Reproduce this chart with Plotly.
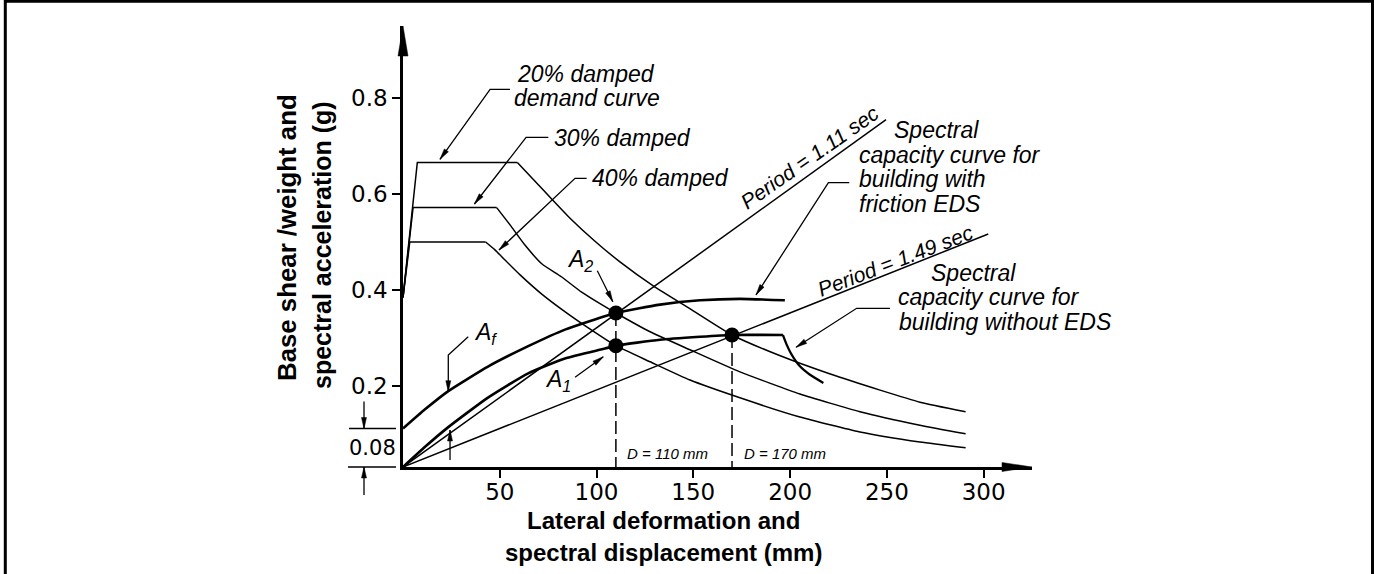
import math
import plotly.graph_objects as go

# ---------------- values ----------------
X_RANGE = [0, 325]          # spectral displacement, mm
Y_RANGE = [0.032, 0.95]     # spectral acceleration, g
BASE = 0.032                # origin of the capacity curves on the vertical scale
AF_OFFSET = 0.08            # friction offset of the EDS capacity curve

x_ticks = [50, 100, 150, 200, 250, 300]
y_ticks = [0.2, 0.4, 0.6, 0.8]
y_tick_text = ["0.2", "0.4", "0.6", "0.8"]

# demand spectra: rising branch + plateau, then the descending branch
d20_rise_x = [0, 7.4, 59.1]
d20_rise_y = [0.385, 0.666, 0.666]
d20_fall_x = [59.1, 68.2, 76.8, 86.3, 99.2, 112.1, 129.3, 148.4, 170, 194.6, 220.4, 246.5, 267.1, 290.7]
d20_fall_y = [0.666, 0.627, 0.590, 0.550, 0.502, 0.459, 0.409, 0.361, 0.3068, 0.264, 0.226, 0.192, 0.167, 0.147]

d30_rise_x = [0, 5.2, 48.4]
d30_rise_y = [0.385, 0.572, 0.572]
d30_fall_x = [48.4, 55.3, 63.0, 71.7, 81.8, 92.3, 101.8, 110, 127.4, 148.3, 174.1, 205.1, 236.1, 267.1, 290.7]
d30_fall_y = [0.572, 0.536, 0.494, 0.455, 0.428, 0.396, 0.372, 0.3526, 0.314, 0.276, 0.230, 0.184, 0.147, 0.119, 0.101]

d40_rise_x = [0, 3.5, 42.7]
d40_rise_y = [0.385, 0.5004, 0.5004]
d40_fall_x = [42.7, 47.5, 52.7, 60.5, 71.7, 83.8, 96.7, 110, 127.7, 148.3, 174.1, 205.1, 236.1, 267.1, 290.7]
d40_fall_y = [0.5004, 0.484, 0.463, 0.432, 0.392, 0.355, 0.319, 0.2845, 0.251, 0.213, 0.176, 0.136, 0.105, 0.084, 0.072]

# capacity curves
cap_fric_x = [0, 11.4, 23.4, 43.9, 64.7, 83.7, 110, 132.8, 153.5, 174.1, 197.3]
cap_fric_y = [BASE + AF_OFFSET, 0.152, 0.190, 0.241, 0.2835, 0.318, 0.3526, 0.370, 0.379, 0.382, 0.379]

cap_bare_x = [0, 11.4, 23.4, 43.9, 64.7, 83.7, 104.4, 110, 132.8, 153.5, 170, 196.3]
cap_bare_y = [BASE, 0.074, 0.115, 0.1765, 0.227, 0.258, 0.2785, 0.2845, 0.297, 0.303, 0.3068, 0.3068]
cap_drop_x = [196.3, 198.2, 200.8, 205.1, 210.3, 217.2]
cap_drop_y = [0.3068, 0.287, 0.266, 0.2416, 0.224, 0.207]

# constant-period lines
period_111_x = [0, 249.6]
period_111_y = [BASE, 0.755]
period_149_x = [0, 302.4]
period_149_y = [BASE, 0.517]

# performance points
perf_x = [110, 110, 170]
perf_y = [0.3526, 0.2845, 0.3068]

# ---------------- geometry helpers ----------------
FW, FH = 1374, 574
MARGIN = dict(l=403, r=342, t=26, b=107, pad=0)
PW = FW - MARGIN["l"] - MARGIN["r"]
PH = FH - MARGIN["t"] - MARGIN["b"]
SX = PW / (X_RANGE[1] - X_RANGE[0])
SY = PH / (Y_RANGE[1] - Y_RANGE[0])


def to_px(x, y):
    return MARGIN["l"] + (x - X_RANGE[0]) * SX, MARGIN["t"] + (Y_RANGE[1] - y) * SY


def px_to_paper(px, py):
    return (px - MARGIN["l"]) / PW, (FH - MARGIN["b"] - py) / PH


def data_to_paper(x, y):
    return px_to_paper(*to_px(x, y))


shapes = []
annotations = []


def poly(points_px, width=1.4, dash=None):
    pts = [px_to_paper(*p) for p in points_px]
    path = "M" + " L".join(f"{a:.5f},{b:.5f}" for a, b in pts)
    ln = dict(color="black", width=width)
    if dash:
        ln["dash"] = dash
    shapes.append(dict(type="path", xref="paper", yref="paper", path=path, line=ln))


def head(tip_px, from_px, length=11, width=5):
    tx, ty = tip_px
    fx, fy = from_px
    n = math.hypot(tx - fx, ty - fy)
    ux, uy = (tx - fx) / n, (ty - fy) / n
    bx, by = tx - ux * length, ty - uy * length
    nx, ny = -uy, ux
    pts = [(tx, ty), (bx + nx * width / 2, by + ny * width / 2), (bx - nx * width / 2, by - ny * width / 2)]
    pts = [px_to_paper(*p) for p in pts]
    path = "M" + " L".join(f"{a:.5f},{b:.5f}" for a, b in pts) + " Z"
    shapes.append(dict(type="path", xref="paper", yref="paper", path=path,
                       fillcolor="black", line=dict(color="black", width=0.5)))


def leader(points_data, length=11, width=5):
    pts = [to_px(*p) for p in points_data]
    poly(pts, width=1.3)
    head(pts[-1], pts[-2], length, width)


def text(s, x, y, size=23, xanchor="center", angle=0, italic=True, bold=False, ref="data"):
    font = dict(family="Liberation Sans, Arial, sans-serif", size=size, color="black")
    if italic:
        font["style"] = "italic"
    if bold:
        font["weight"] = "bold"
    if ref == "data":
        xr, yr = "x", "y"
    else:
        xr, yr = "paper", "paper"
        x, y = px_to_paper(x, y)
    annotations.append(dict(text=s, x=x, y=y, xref=xr, yref=yr, showarrow=False,
                            xanchor=xanchor, yanchor="middle", textangle=angle,
                            font=font))


# ---------------- traces ----------------
fig = go.Figure()


def line(xs, ys, width, shape="linear"):
    fig.add_trace(go.Scatter(x=xs, y=ys, mode="lines", hoverinfo="skip",
                             line=dict(color="black", width=width, shape=shape, smoothing=0.5)))


for rx, ry, fx, fy in [(d20_rise_x, d20_rise_y, d20_fall_x, d20_fall_y),
                       (d30_rise_x, d30_rise_y, d30_fall_x, d30_fall_y),
                       (d40_rise_x, d40_rise_y, d40_fall_x, d40_fall_y)]:
    line(rx, ry, 1.5)
    line(fx, fy, 1.5, "spline")

line(period_111_x, period_111_y, 1.5)
line(period_149_x, period_149_y, 1.5)
line(cap_fric_x, cap_fric_y, 2.6, "spline")
line(cap_bare_x, cap_bare_y, 2.6, "spline")
line(cap_drop_x, cap_drop_y, 2.2, "spline")

# dashed drops from the performance points to the displacement axis
for xv, yv in [(perf_x[0], perf_y[0]), (perf_x[2], perf_y[2])]:
    fig.add_trace(go.Scatter(x=[xv, xv], y=[yv, Y_RANGE[0]], mode="lines", hoverinfo="skip",
                             line=dict(color="black", width=1.5, dash="13px,5px")))

fig.add_trace(go.Scatter(x=perf_x, y=perf_y, mode="markers", hoverinfo="skip",
                         marker=dict(color="black", size=15)))

# ---------------- axis arrowheads ----------------
head(to_px(X_RANGE[0], Y_RANGE[1]), to_px(X_RANGE[0], Y_RANGE[1] - 0.1), length=30, width=10)
head(to_px(X_RANGE[1], Y_RANGE[0]), to_px(X_RANGE[1] - 20, Y_RANGE[0]), length=30, width=9)

# ---------------- callouts ----------------
text("20% damped", 94.8, 0.8509)
text("demand curve", 95.3, 0.7999)
leader([(55.3, 0.818), (45.0, 0.818), (19.1, 0.6725)])

text("30% damped", 113.4, 0.716)
leader([(75.1, 0.718), (63.6, 0.718), (36.9, 0.5795)])

text("40% damped", 133.0, 0.633)
leader([(94.9, 0.633), (88.9, 0.633), (49.6, 0.4837)])

text("Spectral", 252.5, 0.7331, xanchor="left")
text("capacity curve for", 234.6, 0.6821, xanchor="left")
text("building with", 234.6, 0.6311, xanchor="left")
text("friction EDS", 234.6, 0.5801, xanchor="left")
leader([(230.6, 0.6238), (219.8, 0.6238), (182.4, 0.390)])

text("Spectral", 271.8, 0.4365, xanchor="left")
text("capacity curve for", 254.7, 0.3855, xanchor="left")
text("building without EDS", 255.2, 0.3345, xanchor="left")
leader([(251.6, 0.3624), (234.4, 0.3624), (203.1, 0.2812)])

text("Period = 1.11 sec", 209.8, 0.6773, size=21, angle=-35)
text("Period = 1.49 sec", 254.6, 0.4629, size=21, angle=-21)

text("A<sub>f</sub>", 42.4, 0.3103)
leader([(33.7, 0.3033), (23.4, 0.2652), (23.4, 0.1888)])

text("A<sub>1</sub>", 80.2, 0.2131)
leader([(88.9, 0.2187), (103.5, 0.2616)])

text("A<sub>2</sub>", 91.5, 0.4629)
leader([(100.4, 0.4406), (108.4, 0.3761)])

leader([(24.3, 0.0466), (24.3, 0.109)])

text("D = 110 mm", 114.7, 0.0605, size=15, xanchor="left")
text("D = 170 mm", 175.0, 0.0605, size=15, xanchor="left")

# ---------------- friction offset dimension ----------------
_, py_top = to_px(0, BASE + AF_OFFSET)
_, py_base = to_px(0, BASE)
poly([(349, py_top), (396, py_top)], width=1.5)
poly([(348, py_base), (396, py_base)], width=1.5)
poly([(364, py_top - 27), (364, py_top)], width=1.3)
head((364, py_top), (364, py_top - 27), length=11, width=5)
poly([(364, py_base + 28), (364, py_base)], width=1.3)
head((364, py_base), (364, py_base + 28), length=11, width=5)
annotations.append(dict(text=f"{AF_OFFSET:.2f}", xref="paper", yref="paper",
                        x=px_to_paper(372, 0)[0], y=data_to_paper(0, BASE + AF_OFFSET / 2)[1],
                        showarrow=False, xanchor="center", yanchor="middle",
                        font=dict(family="DejaVu Sans", size=21, color="black")))

# ---------------- axis titles ----------------
text("Lateral deformation and", 663, 520, size=24, italic=False, bold=True, ref="paper")
text("spectral displacement (mm)", 663, 552, size=24, italic=False, bold=True, ref="paper")
text("Base shear /weight and", 287, 238, size=25.8, italic=False, bold=True, angle=-90, ref="paper")
text("spectral acceleration (g)", 322, 245, size=25, italic=False, bold=True, angle=-90, ref="paper")

# ---------------- frame ----------------
x0p, y0p = px_to_paper(5.3, 1.3)
x1p, y1p = px_to_paper(1372.5, 600)
shapes.append(dict(type="rect", xref="paper", yref="paper", x0=x0p, y0=y1p, x1=x1p, y1=y0p,
                   line=dict(color="black", width=3)))

tick_font = dict(family="DejaVu Sans", size=23, color="black")
fig.update_layout(
    width=FW, height=FH, margin=MARGIN,
    paper_bgcolor="white", plot_bgcolor="white",
    showlegend=False,
    shapes=shapes, annotations=annotations,
    xaxis=dict(range=X_RANGE, tickvals=x_ticks, ticks="outside", ticklen=8, tickwidth=1.5,
               tickcolor="black", showline=True, linewidth=2.5, linecolor="black",
               showgrid=False, zeroline=False, tickfont=tick_font, fixedrange=True,
               ticklabelstandoff=-5),
    yaxis=dict(range=Y_RANGE, tickvals=y_ticks, ticktext=y_tick_text, ticks="outside",
               ticklen=8, tickwidth=1.5, tickcolor="black", showline=True, linewidth=2.5,
               linecolor="black", showgrid=False, zeroline=False, tickfont=tick_font,
               fixedrange=True),
)

fig.write_html("out.html")
